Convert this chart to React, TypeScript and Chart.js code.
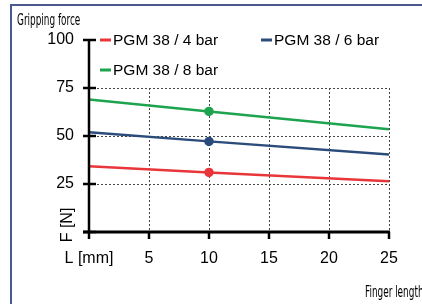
import React, { useEffect, useRef } from "react";
import { Chart, registerables } from "chart.js";

Chart.register(...registerables);

const fingerLength = [0, 10, 25];
const force4bar = [34.2, 31.0, 26.4];
const force6bar = [52.0, 47.2, 40.3];
const force8bar = [69.0, 62.8, 53.5];
const seriesLabels = ["PGM 38 / 4 bar", "PGM 38 / 6 bar", "PGM 38 / 8 bar"];
const seriesColors = ["#e8363b", "#2b4b7b", "#1ea34f"];
const xTickValues = [0, 5, 10, 15, 20, 25];
const yTickValues = [0, 25, 50, 75, 100];
const xGridValues = [5, 10, 15, 20, 25];
const yGridValues = [25, 50, 75];
const xZeroLabel = "L [mm]";
const yZeroLabel = "F [N]";
const titleText = "Gripping force";
const xTitleText = "Finger length";

const SANS = '"Liberation Sans", Arial, sans-serif';
const NARROW = '"Liberation Sans Narrow", "DejaVu Sans Condensed", sans-serif';

const decorPlugin = {
  id: "decor",
  beforeDatasetsDraw(chart: any) {
    const { ctx } = chart;
    const x = chart.scales.x;
    const y = chart.scales.y;
    ctx.save();
    ctx.strokeStyle = "#444";
    ctx.lineWidth = 1;
    ctx.setLineDash([2, 2]);
    const yTop = y.getPixelForValue(75);
    const yBot = y.getPixelForValue(0);
    xGridValues.forEach((v) => {
      const px = Math.round(x.getPixelForValue(v)) + 0.5;
      ctx.beginPath();
      ctx.moveTo(px, yTop);
      ctx.lineTo(px, yBot);
      ctx.stroke();
    });
    const xl = x.getPixelForValue(0);
    const xr = x.getPixelForValue(25);
    yGridValues.forEach((v) => {
      const py = Math.round(y.getPixelForValue(v)) + 0.5;
      ctx.beginPath();
      ctx.moveTo(xl, py);
      ctx.lineTo(xr, py);
      ctx.stroke();
    });
    ctx.restore();
  },
  afterDatasetsDraw(chart: any) {
    const { ctx } = chart;
    const x = chart.scales.x;
    const y = chart.scales.y;
    const x0 = x.getPixelForValue(0);
    const y0 = y.getPixelForValue(0);
    ctx.save();
    ctx.strokeStyle = "#000";
    ctx.setLineDash([]);
    // axes
    ctx.lineWidth = 2.5;
    ctx.beginPath();
    ctx.moveTo(x0, y.getPixelForValue(100));
    ctx.lineTo(x0, y0);
    ctx.stroke();
    ctx.lineWidth = 3;
    ctx.beginPath();
    ctx.moveTo(x0 - 6, y0);
    ctx.lineTo(x.getPixelForValue(25) + 1, y0);
    ctx.stroke();
    // ticks
    ctx.lineWidth = 2.5;
    yTickValues.forEach((v) => {
      const py = y.getPixelForValue(v);
      ctx.beginPath();
      ctx.moveTo(x0 - 6, py);
      ctx.lineTo(x0 + 7, py);
      ctx.stroke();
    });
    xTickValues.forEach((v) => {
      const px = x.getPixelForValue(v);
      ctx.beginPath();
      ctx.moveTo(px, y0);
      ctx.lineTo(px, y0 + 7);
      ctx.stroke();
    });
    // rotated y zero label
    ctx.fillStyle = "#000";
    ctx.font = `16px ${SANS}`;
    ctx.textAlign = "center";
    ctx.textBaseline = "middle";
    ctx.save();
    ctx.translate(x0 - 21, y0 - 7);
    ctx.rotate(-Math.PI / 2);
    ctx.fillText(yZeroLabel, 0, 0);
    ctx.restore();
    // legend
    const area = chart.chartArea;
    const slots = [
      [area.left + 11, area.top],
      [area.left + 172, area.top],
      [area.left + 11, area.top + 30],
    ];
    ctx.font = `15.5px ${SANS}`;
    ctx.textAlign = "left";
    chart.data.datasets.forEach((ds: any, i: number) => {
      const [lx, ly] = slots[i];
      ctx.strokeStyle = ds.borderColor;
      ctx.lineWidth = 3;
      ctx.beginPath();
      ctx.moveTo(lx, ly);
      ctx.lineTo(lx + 11, ly);
      ctx.stroke();
      ctx.fillStyle = "#000";
      ctx.fillText(ds.label, lx + 13, ly + 1);
    });
    ctx.restore();
  },
};

export default function App() {
  const canvasRef = useRef<HTMLCanvasElement | null>(null);

  useEffect(() => {
    if (!canvasRef.current) return;
    const series = [force4bar, force6bar, force8bar];
    const chart = new Chart(canvasRef.current, {
      type: "line",
      data: {
        datasets: series.map((vals, i) => ({
          label: seriesLabels[i],
          data: vals.map((v, j) => ({ x: fingerLength[j], y: v })),
          borderColor: seriesColors[i],
          backgroundColor: seriesColors[i],
          borderWidth: 2.5,
          pointRadius: fingerLength.map((_, j) => (j === 1 ? 3.5 : 0)),
          pointHoverRadius: 0,
          tension: 0,
          fill: false,
        })),
      },
      options: {
        animation: false,
        responsive: false,
        events: [],
        layout: { padding: { top: 40, left: 0, right: 33, bottom: 0 } },
        plugins: {
          legend: { display: false },
          tooltip: { enabled: false },
          title: { display: false },
        },
        scales: {
          x: {
            type: "linear",
            min: 0,
            max: 25,
            afterFit: (s: any) => {
              s.height = 72;
            },
            afterBuildTicks: (s: any) => {
              s.ticks = xTickValues.map((v) => ({ value: v }));
            },
            grid: { display: false, drawTicks: false },
            border: { display: false },
            ticks: {
              autoSkip: false,
              maxRotation: 0,
              padding: 17,
              color: "#000",
              font: { family: SANS, size: 16 },
              callback: (v: any) => (Number(v) === 0 ? xZeroLabel : String(v)),
            },
          },
          y: {
            type: "linear",
            min: 0,
            max: 100,
            afterFit: (s: any) => {
              s.width = 89;
            },
            afterBuildTicks: (s: any) => {
              s.ticks = yTickValues.map((v) => ({ value: v }));
            },
            grid: { display: false, drawTicks: false },
            border: { display: false },
            ticks: {
              padding: 15,
              color: "#000",
              font: { family: SANS, size: 16 },
              callback: (v: any) => (Number(v) === 0 ? "" : String(v)),
            },
          },
        },
      },
      plugins: [decorPlugin],
    });
    return () => chart.destroy();
  }, []);

  return (
    <div
      style={{
        position: "fixed",
        left: 0,
        top: 0,
        width: 422,
        height: 304,
        background: "#fff",
        overflow: "hidden",
      }}
    >
      <div
        style={{
          position: "absolute",
          left: 10,
          top: 4,
          width: 440,
          height: 320,
          borderLeft: "2px solid #4a5a8e",
          borderTop: "2px solid #4a5a8e",
        }}
      />
      <canvas
        ref={canvasRef}
        width={422}
        height={304}
        style={{ position: "absolute", left: 0, top: 0, width: 422, height: 304 }}
      />
      <div
        style={{
          position: "absolute",
          left: 17,
          top: 11,
          font: `15px ${NARROW}`,
          color: "#000",
          whiteSpace: "nowrap",
          transform: "scaleX(0.66)",
          transformOrigin: "left top",
        }}
      >
        {titleText}
      </div>
      <div
        style={{
          position: "absolute",
          left: 365,
          top: 283,
          font: `15px ${NARROW}`,
          color: "#000",
          whiteSpace: "nowrap",
          transform: "scaleX(0.66)",
          transformOrigin: "left top",
        }}
      >
        {xTitleText}
      </div>
    </div>
  );
}
